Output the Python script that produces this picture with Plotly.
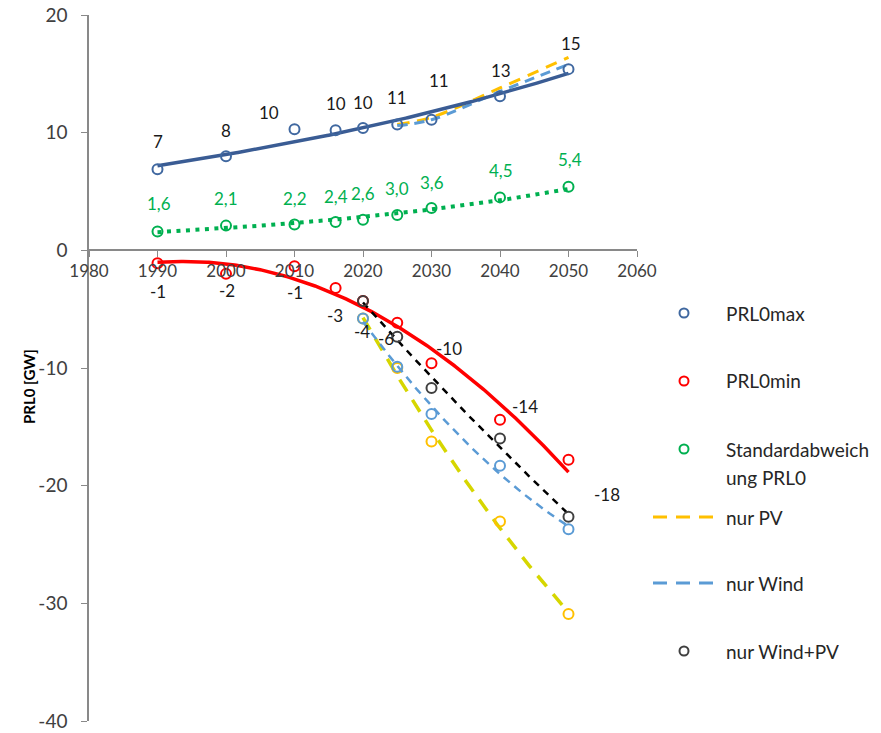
import numpy as np
import plotly.graph_objects as go

# ---- data -------------------------------------------------------------
years = [1990, 2000, 2010, 2016, 2020, 2025, 2030, 2040, 2050]
prl0_max = [6.9, 8.0, 10.3, 10.2, 10.4, 10.7, 11.1, 13.1, 15.4]
prl0_min = [-1.1, -2.0, -1.35, -3.2, -4.3, -6.15, -9.6, -14.4, -17.8]
prl0_std = [1.6, 2.1, 2.2, 2.4, 2.6, 3.0, 3.6, 4.5, 5.4]

scen_years = [2020, 2025, 2030, 2040, 2050]
nur_pv_min = [-5.8, -10.0, -16.25, -23.05, -30.9]
nur_wind_min = [-5.8, -9.9, -13.9, -18.3, -23.7]
nur_windpv_min = [-4.3, -7.35, -11.7, -16.0, -22.65]

scen_max_years = [2025, 2030, 2040, 2050]
nur_pv_max = [10.7, 11.3, 13.8, 16.4]
nur_wind_max = [10.6, 11.1, 13.5, 15.8]

y_ticks = [-40, -30, -20, -10, 0, 10, 20]
x_ticks = [1980, 1990, 2000, 2010, 2020, 2030, 2040, 2050, 2060]

legend_names = ["PRL0max", "PRL0min", "Standardabweich", "ung PRL0",
                "nur PV", "nur Wind", "nur Wind+PV"]

# ---- colours / fonts ----------------------------------------------------
C_MAX_M = "#4068A0"
C_MAX_L = "#3A5C94"
C_MIN = "#FF0000"
C_STD = "#00B050"
C_PV = "#FFC000"
C_PV_LINE = "#D6D600"
C_WIND = "#5B9BD5"
C_WPV_M = "#404040"
C_WPV_L = "#000000"
FONT = "Lato"
TXT = "#1a1a1a"

# ---- figure geometry (pixels) -----------------------------------------
W, H = 881, 733
L, R, T, B = 89, 637, 15, 721


def px_x(px):
    return (px - L) / (R - L)


def px_y(py):
    return (B - py) / (B - T)


def exp_fit(x, y, grid):
    k, a = np.polyfit(np.asarray(x, float), np.log(np.asarray(y, float)), 1)
    return np.exp(a + k * grid)


def poly_fit(x, y, grid, deg=2):
    c = np.polyfit(np.asarray(x, float) - 2020, np.asarray(y, float), deg)
    return np.polyval(c, grid - 2020)


fig = go.Figure()

grid_all = np.linspace(1990, 2050, 241)
grid_scen = np.linspace(2020, 2050, 121)

# upper scenario curves (behind the PRL0max trend)
fig.add_trace(go.Scatter(x=scen_max_years, y=nur_pv_max, mode="lines",
                         line=dict(color=C_PV, width=3, dash="12px,8px", shape="spline"),
                         showlegend=False))
fig.add_trace(go.Scatter(x=scen_max_years, y=nur_wind_max, mode="lines",
                         line=dict(color=C_WIND, width=3, dash="10px,7px", shape="spline"),
                         showlegend=False))

# PRL0max
fig.add_trace(go.Scatter(x=grid_all, y=exp_fit(years, prl0_max, grid_all), mode="lines",
                         line=dict(color=C_MAX_L, width=3.5), showlegend=False))
fig.add_trace(go.Scatter(x=years, y=prl0_max, mode="markers",
                         marker=dict(symbol="circle-open", size=10, color=C_MAX_M,
                                     line=dict(width=2, color=C_MAX_M)),
                         showlegend=False))

# Standardabweichung
fig.add_trace(go.Scatter(x=grid_all, y=exp_fit(years, prl0_std, grid_all), mode="lines",
                         line=dict(color=C_STD, width=4, dash="4px,5.5px"), showlegend=False))
fig.add_trace(go.Scatter(x=years, y=prl0_std, mode="markers",
                         marker=dict(symbol="circle-open", size=10, color=C_STD,
                                     line=dict(width=2, color=C_STD)),
                         showlegend=False))

# PRL0min
fig.add_trace(go.Scatter(x=grid_all, y=poly_fit(years, prl0_min, grid_all), mode="lines",
                         line=dict(color=C_MIN, width=3.5), showlegend=False))
fig.add_trace(go.Scatter(x=years, y=prl0_min, mode="markers",
                         marker=dict(symbol="circle-open", size=10, color=C_MIN,
                                     line=dict(width=2, color=C_MIN)),
                         showlegend=False))

# scenarios (negative side)
fig.add_trace(go.Scatter(x=grid_scen, y=poly_fit(scen_years, nur_pv_min, grid_scen), mode="lines",
                         line=dict(color=C_PV_LINE, width=3.5, dash="14px,10px"), showlegend=False))
fig.add_trace(go.Scatter(x=scen_years, y=nur_pv_min, mode="markers",
                         marker=dict(symbol="circle-open", size=10, color=C_PV,
                                     line=dict(width=2, color=C_PV)),
                         showlegend=False))
fig.add_trace(go.Scatter(x=grid_scen, y=poly_fit(scen_years, nur_wind_min, grid_scen), mode="lines",
                         line=dict(color=C_WIND, width=2.5, dash="8px,6px"), showlegend=False))
fig.add_trace(go.Scatter(x=scen_years, y=nur_wind_min, mode="markers",
                         marker=dict(symbol="circle-open", size=10, color=C_WIND,
                                     line=dict(width=2, color=C_WIND)),
                         showlegend=False))
fig.add_trace(go.Scatter(x=grid_scen, y=poly_fit(scen_years, nur_windpv_min, grid_scen), mode="lines",
                         line=dict(color=C_WPV_L, width=2.5, dash="7px,6px"), showlegend=False))
fig.add_trace(go.Scatter(x=scen_years, y=nur_windpv_min, mode="markers",
                         marker=dict(symbol="circle-open", size=10, color=C_WPV_M,
                                     line=dict(width=2, color=C_WPV_M)),
                         showlegend=False))

# ---- data labels --------------------------------------------------------
annotations = []
max_off = [(0, 28), (0, 26), (-26, 17), (0, 27), (0, 25), (0, 27), (7, 39), (1, 26), (2, 26)]
std_off = [(1, 28), (0, 27), (0, 26), (0, 26), (0, 26), (0, 27), (0, 25), (1, 27), (1, 27)]
min_off = [(0, -28), (1, -17), (0, -26), (-1, -28), (-1, -31), (-11, -16), (17, 15), (25, 13), (38, -35)]

for yr, v, (dx, dy) in zip(years, prl0_max, max_off):
    annotations.append(dict(x=yr, y=v, text=f"{round(v):d}", showarrow=False,
                            xshift=dx, yshift=dy, font=dict(family=FONT, size=17, color=TXT)))
for yr, v, (dx, dy) in zip(years, prl0_std, std_off):
    annotations.append(dict(x=yr, y=v, text=f"{v:.1f}".replace(".", ","), showarrow=False,
                            xshift=dx, yshift=dy, font=dict(family=FONT, size=17, color=C_STD)))
for yr, v, (dx, dy) in zip(years, prl0_min, min_off):
    annotations.append(dict(x=yr, y=v, text=f"{round(v):d}", showarrow=False,
                            xshift=dx, yshift=dy, font=dict(family=FONT, size=17, color=TXT)))

# axis title
annotations.append(dict(xref="paper", yref="paper", x=px_x(18), y=px_y(387),
                        text="<b>PRL0 [GW]</b>", textangle=-90, showarrow=False,
                        font=dict(family=FONT, size=15, color="#000000")))

# ---- legend (drawn manually) -------------------------------------------
shapes = []
leg_marker_x = 684
leg_text_x = 724
leg_rows = [
    ("marker", C_MAX_M, 313, legend_names[0]),
    ("marker", C_MIN, 381, legend_names[1]),
    ("marker", C_STD, 449, legend_names[2]),
    (None, None, 477, legend_names[3]),
    ("line", C_PV, 517, legend_names[4]),
    ("line", C_WIND, 583, legend_names[5]),
    ("marker", C_WPV_M, 651, legend_names[6]),
]
for kind, col, py, name in leg_rows:
    annotations.append(dict(xref="paper", yref="paper", x=px_x(leg_text_x), y=px_y(py),
                            xanchor="left", yanchor="middle", text=name, showarrow=False,
                            font=dict(family=FONT, size=19, color="#262626")))
    if kind == "marker":
        shapes.append(dict(type="circle", xref="paper", yref="paper",
                           xsizemode="pixel", ysizemode="pixel",
                           xanchor=px_x(leg_marker_x), yanchor=px_y(py),
                           x0=-4.5, x1=4.5, y0=-4.5, y1=4.5,
                           line=dict(color=col, width=2)))
    elif kind == "line":
        shapes.append(dict(type="line", xref="paper", yref="paper",
                           x0=px_x(653), x1=px_x(714), y0=px_y(py), y1=px_y(py),
                           line=dict(color=col, width=3, dash="14px,9px")))

fig.update_layout(
    width=W, height=H,
    margin=dict(l=L, r=W - R, t=T, b=H - B, autoexpand=False),
    plot_bgcolor="white", paper_bgcolor="white",
    showlegend=False,
    annotations=annotations,
    shapes=shapes,
    xaxis=dict(range=[1980, 2060], tickvals=x_ticks, ticktext=[str(t) for t in x_ticks],
               anchor="free", position=40 / 60, showline=True, linecolor="#898989",
               linewidth=1.5, ticks="outside", ticklen=6, tickcolor="#898989",
               showgrid=False, zeroline=False,
               tickfont=dict(family=FONT, size=17, color="#404040")),
    yaxis=dict(range=[-40, 20], tickvals=y_ticks, ticktext=[str(t) for t in y_ticks],
               showline=True, linecolor="#898989", linewidth=1.5, ticks="outside",
               ticklen=6, tickcolor="#898989", showgrid=False, zeroline=False,
               ticklabelstandoff=10,
               tickfont=dict(family=FONT, size=19, color="#404040")),
)

fig.write_html("out.html")
